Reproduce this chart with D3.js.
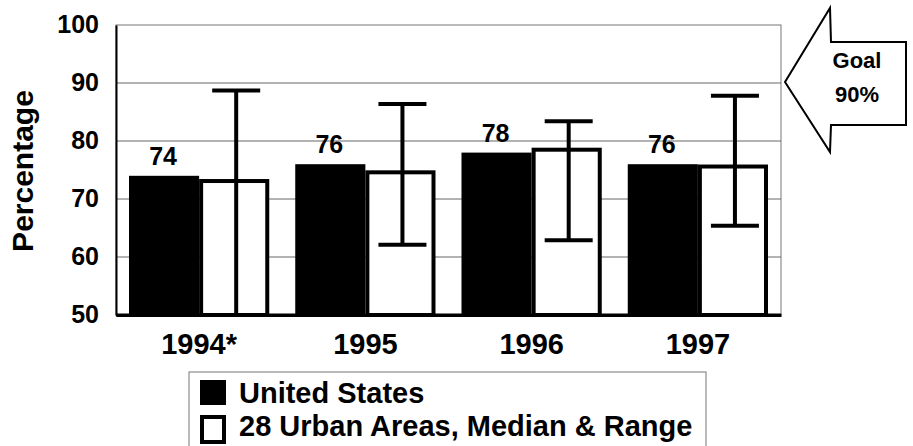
<!DOCTYPE html>
<html>
<head>
<meta charset="utf-8">
<script src="https://cdn.jsdelivr.net/npm/d3@7"></script>
<style>
  html, body { margin: 0; padding: 0; background: #fff; }
  svg { display: block; }
  text { font-family: "Liberation Sans", Arial, sans-serif; font-weight: bold; fill: #000; }
</style>
</head>
<body>
<svg id="chart" width="913" height="446"></svg>
<script>
// ---- Data ----
const years = ["1994*", "1995", "1996", "1997"];
const usValues = [74, 76, 78, 76];
const urbanMedian = [73.1, 74.6, 78.5, 75.6];
const urbanHigh = [88.7, 86.4, 83.4, 87.8];
const urbanLow = [49, 62.1, 62.9, 65.4];
const yTicks = [50, 60, 70, 80, 90, 100];
const seriesNames = ["United States", "28 Urban Areas, Median & Range"];
const goalLines = ["Goal", "90%"];

// ---- Layout ----
const svg = d3.select("#chart");
const plot = { left: 116, right: 781, top: 25, bottom: 315 };

const x = d3.scaleBand().domain(years).range([plot.left, plot.right]).padding(0);
const xSub = d3.scaleBand().domain(["us", "urban"])
  .range([13, x.bandwidth() - 13]).padding(0);
const y = d3.scaleLinear().domain([50, 100]).range([plot.bottom, plot.top]);

svg.append("defs").append("clipPath").attr("id", "clip")
  .append("rect")
  .attr("x", plot.left).attr("y", plot.top)
  .attr("width", plot.right - plot.left).attr("height", plot.bottom - plot.top);

// frame
svg.append("rect")
  .attr("x", plot.left).attr("y", plot.top)
  .attr("width", plot.right - plot.left).attr("height", plot.bottom - plot.top)
  .attr("fill", "#fff").attr("stroke", "#777").attr("stroke-width", 1);

// gridlines
svg.append("g").selectAll("line")
  .data(yTicks.filter(d => d > 50 && d < 100))
  .join("line")
  .attr("x1", plot.left).attr("x2", plot.right)
  .attr("y1", d => y(d)).attr("y2", d => y(d))
  .attr("stroke", "#666").attr("stroke-width", 1);

// Y axis
const yAxis = d3.axisLeft(y).tickValues(yTicks).tickSize(0).tickPadding(17);
const gy = svg.append("g").attr("transform", `translate(${plot.left},0)`).call(yAxis);
gy.select(".domain").attr("stroke", "#000").attr("stroke-width", 2);
gy.selectAll("text").style("font-size", "25px").attr("dy", "0.28em");

// X axis
const xAxis = d3.axisBottom(x).tickSize(0).tickPadding(18);
const gx = svg.append("g").attr("transform", `translate(0,${plot.bottom})`).call(xAxis);
gx.select(".domain").attr("stroke", "#000").attr("stroke-width", 3);
gx.selectAll("text").style("font-size", "29px").attr("dy", "0.71em");

// Y title
svg.append("text")
  .attr("transform", `translate(33,171) rotate(-90)`)
  .attr("text-anchor", "middle")
  .style("font-size", "30px")
  .text("Percentage");

// Bars
const gBars = svg.append("g").attr("clip-path", "url(#clip)");
gBars.selectAll("rect.us")
  .data(years)
  .join("rect").attr("class", "us")
  .attr("x", d => x(d) + xSub("us"))
  .attr("y", (d, i) => y(usValues[i]))
  .attr("width", xSub.bandwidth())
  .attr("height", (d, i) => y(50) - y(usValues[i]))
  .attr("fill", "#000");

gBars.selectAll("rect.urban")
  .data(years)
  .join("rect").attr("class", "urban")
  .attr("x", d => x(d) + xSub("urban") + 2)
  .attr("y", (d, i) => y(urbanMedian[i]))
  .attr("width", xSub.bandwidth() - 4)
  .attr("height", (d, i) => y(50) - y(urbanMedian[i]))
  .attr("fill", "#fff").attr("stroke", "#000").attr("stroke-width", 4);

// Error bars
const capHalf = 24;
const gErr = svg.append("g").attr("clip-path", "url(#clip)")
  .attr("stroke", "#000").attr("stroke-width", 4);
years.forEach((yr, i) => {
  const cx = x(yr) + xSub("urban") + xSub.bandwidth() / 2 + 2;
  gErr.append("line")
    .attr("x1", cx).attr("x2", cx)
    .attr("y1", y(urbanHigh[i])).attr("y2", y(urbanLow[i]));
  gErr.append("line")
    .attr("x1", cx - capHalf).attr("x2", cx + capHalf)
    .attr("y1", y(urbanHigh[i])).attr("y2", y(urbanHigh[i]));
  gErr.append("line")
    .attr("x1", cx - capHalf).attr("x2", cx + capHalf)
    .attr("y1", y(urbanLow[i])).attr("y2", y(urbanLow[i]));
});

// redraw bottom axis line on top
svg.append("line")
  .attr("x1", plot.left).attr("x2", plot.right)
  .attr("y1", plot.bottom).attr("y2", plot.bottom)
  .attr("stroke", "#000").attr("stroke-width", 3);

// Value labels
svg.append("g").selectAll("text")
  .data(years)
  .join("text")
  .attr("x", d => x(d) + xSub("us") + xSub.bandwidth() / 2 - 1)
  .attr("y", (d, i) => y(usValues[i]) - 11)
  .attr("text-anchor", "middle")
  .style("font-size", "25px")
  .text((d, i) => usValues[i]);

// Goal arrow
const arrowPts = [[785, 82], [830, 8], [831, 42], [906, 42], [906, 125], [831, 125], [830, 152]];
svg.append("polygon")
  .attr("points", arrowPts.map(p => p.join(",")).join(" "))
  .attr("fill", "#fff").attr("stroke", "#000").attr("stroke-width", 2)
  .attr("stroke-linejoin", "miter");
svg.append("g").selectAll("text")
  .data(goalLines)
  .join("text")
  .attr("x", 857)
  .attr("y", (d, i) => 68 + i * 34)
  .attr("text-anchor", "middle")
  .style("font-size", "22px")
  .text(d => d);

// Legend
const lg = svg.append("g");
lg.append("rect")
  .attr("x", 189).attr("y", 372).attr("width", 517).attr("height", 90)
  .attr("fill", "#fff").attr("stroke", "#777").attr("stroke-width", 1);
lg.append("rect")
  .attr("x", 200).attr("y", 380).attr("width", 26).attr("height", 25)
  .attr("fill", "#000");
lg.append("rect")
  .attr("x", 202).attr("y", 417).attr("width", 22).attr("height", 25)
  .attr("fill", "#fff").attr("stroke", "#000").attr("stroke-width", 4);
lg.selectAll("text.lab")
  .data(seriesNames)
  .join("text").attr("class", "lab")
  .attr("x", 239)
  .attr("y", (d, i) => 403 + i * 33)
  .style("font-size", "29px")
  .text(d => d);
</script>
</body>
</html>
